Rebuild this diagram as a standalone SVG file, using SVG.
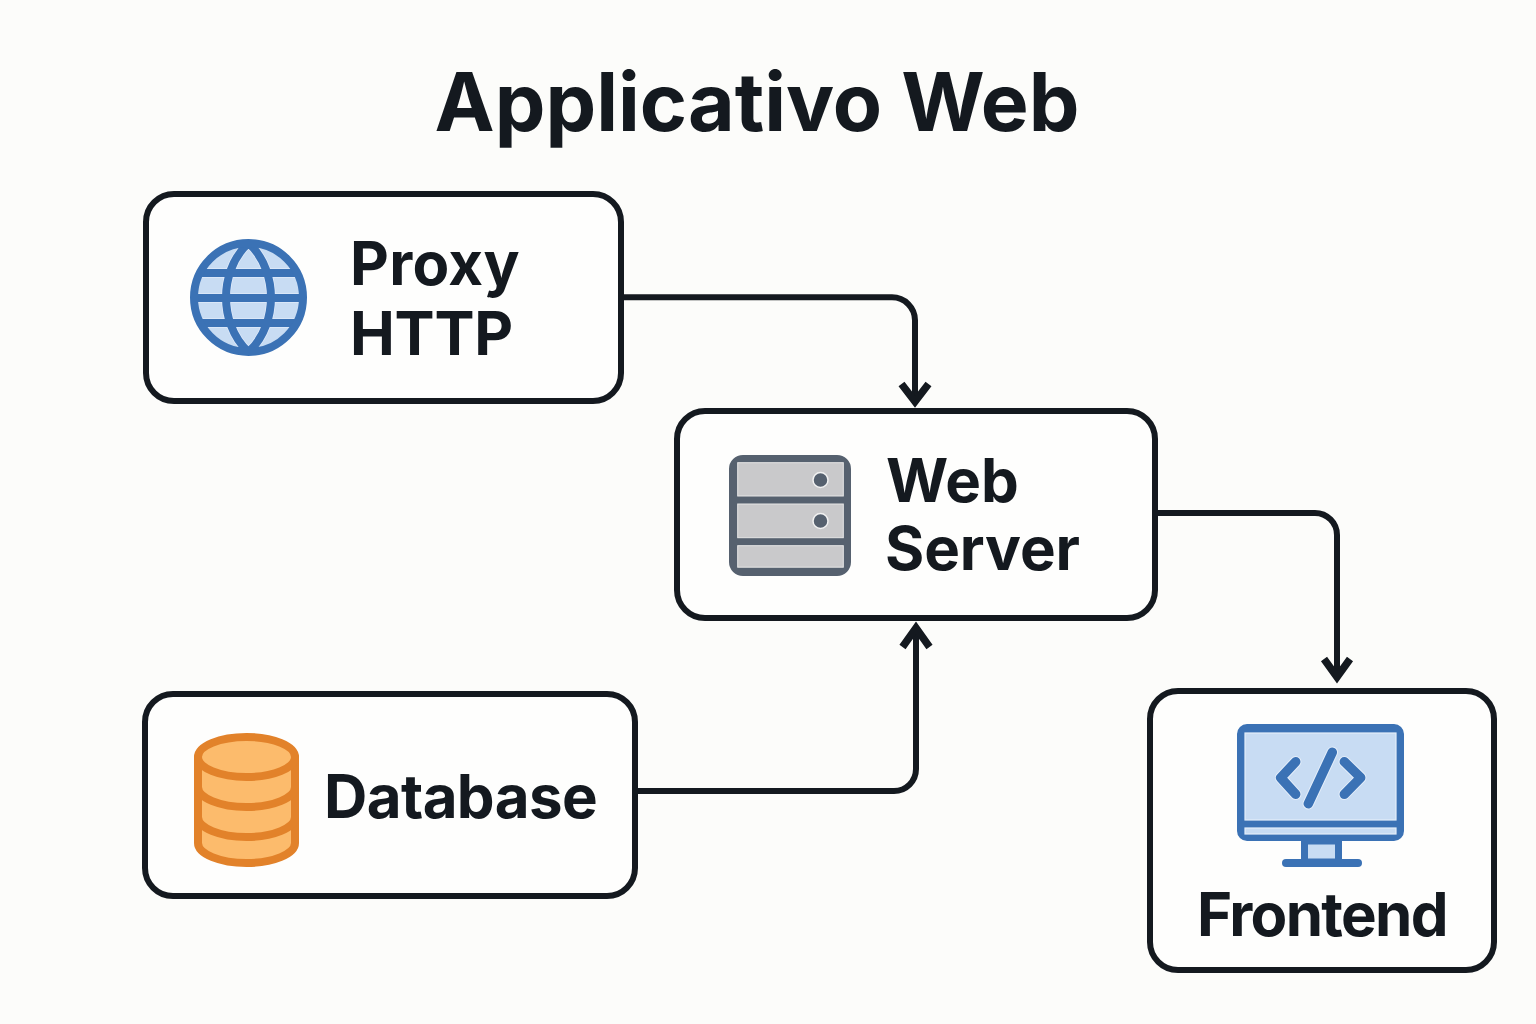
<svg xmlns="http://www.w3.org/2000/svg" width="1536" height="1024" viewBox="0 0 1536 1024">
<defs>
<style>
text{font-family:Inter,"Liberation Sans",sans-serif;font-weight:650;fill:#14191f}
.label{font-size:60px}
.title{font-size:80.500px}
.box{fill:#fefefd;stroke:#14191f;stroke-width:6}
.wire{fill:none;stroke:#14191f;stroke-width:6}
.head{fill:none;stroke:#14191f;stroke-width:7.5;stroke-linejoin:miter;stroke-miterlimit:6}
.blue{stroke:#3b72b5;stroke-width:8;fill:none}
.halo{stroke:#dfeafa;stroke-width:9.500;fill:none}
.pane{fill:#c8dcf3;stroke:#e4eefa;stroke-width:1.2}
.slot{fill:#c9c9cb;stroke:#e6e6e6;stroke-width:1}
.code{fill:none;stroke-linecap:round;stroke-linejoin:round}
</style>
<path id="globe-lines" d="M200 273H297M194 298H303M200 323H297M248.500 243C232 258 226 280 226 297.500S232 337 248.500 352M248.500 243C265 258 271 280 271 297.500S265 337 248.500 352"/>
<path id="code-lines" d="M1295.700 761.700L1280.700 777.700L1295.700 794.300M1344.300 761.700L1360.700 777.700L1344.300 794.300M1332.300 752.300L1308.300 803.700"/>
</defs>
<rect width="1536" height="1024" fill="#fcfcfa"/>
<text class="title" x="757" y="131" text-anchor="middle">Applicativo Web</text>
<g id="connectors">
<path class="wire" d="M620 297.300H892A23 23 0 0 1 915 320.300V398"/>
<path class="head" d="M901.500 384L915 401.500L928.500 384"/>
<path class="wire" d="M1155 513H1315A22 22 0 0 1 1337 535V675"/>
<path class="head" d="M1324 659L1337 677L1350 659"/>
<path class="wire" d="M635 791H894A22 22 0 0 0 916 769V632"/>
<path class="head" d="M902.500 647L916 628L929.500 647"/>
</g>
<g id="proxy">
<rect class="box" x="146" y="194" width="475" height="207" rx="28"/>
<circle cx="248.500" cy="297.500" r="54.500" fill="#c8dcf3"/>
<use href="#globe-lines" class="halo"/>
<use href="#globe-lines" class="blue"/>
<circle cx="248.500" cy="297.500" r="54.500" fill="none" stroke="#3b72b5" stroke-width="8"/>
<text class="label" x="350" y="285" letter-spacing="0.3">Proxy</text>
<text class="label" x="350" y="355" letter-spacing="-0.2">HTTP</text>
</g>
<g id="webserver">
<rect class="box" x="677" y="411" width="478" height="207" rx="28"/>
<rect x="733" y="459" width="114" height="113" rx="10" fill="#56616f" stroke="#56616f" stroke-width="8"/>
<rect class="slot" x="737.700" y="462.700" width="105.600" height="33.300"/>
<rect class="slot" x="737.700" y="504" width="105.600" height="33.700"/>
<rect class="slot" x="737.700" y="545.700" width="105.600" height="21.500"/>
<circle cx="820.500" cy="480" r="7.500" fill="#56616f" stroke="#f2f2f2" stroke-width="1.500"/>
<circle cx="820.500" cy="521" r="7.500" fill="#56616f" stroke="#f2f2f2" stroke-width="1.500"/>
<text class="label" x="886" y="502">Web</text>
<text class="label" x="885" y="570" letter-spacing="-0.1">Server</text>
</g>
<g id="database">
<rect class="box" x="145" y="694" width="490" height="202" rx="28"/>
<path d="M198 757V843C198 854 220 863 246.500 863S295 854 295 843V757Z" fill="#fcbb6c" stroke="#e2822a" stroke-width="8" stroke-linejoin="round"/>
<ellipse cx="246.500" cy="757" rx="48.500" ry="20" fill="#fcbb6c" stroke="#e2822a" stroke-width="8"/>
<path d="M198 787C198 798 220 807 246.500 807S295 798 295 787M198 817C198 828 220 837 246.500 837S295 828 295 817" fill="none" stroke="#e2822a" stroke-width="8"/>
<text class="label" x="324" y="818" letter-spacing="-0.6">Database</text>
</g>
<g id="frontend">
<rect class="box" x="1150" y="691" width="344" height="279" rx="28"/>
<rect x="1241" y="728" width="159" height="109" rx="6" fill="#3b72b5" stroke="#3b72b5" stroke-width="8"/>
<rect class="pane" x="1245" y="733" width="151" height="87"/>
<rect class="pane" x="1245" y="828" width="151" height="6"/>
<rect x="1304.500" y="841" width="34" height="21" fill="#c8dcf3" stroke="#3b72b5" stroke-width="7"/>
<rect x="1282" y="859" width="80" height="8" rx="4" fill="#3b72b5"/>
<use href="#code-lines" class="code" stroke="#e4eefa" stroke-width="11.500"/>
<use href="#code-lines" class="code" stroke="#3b72b5" stroke-width="9.500"/>
<text class="label" x="1197" y="936" letter-spacing="-1.700">Frontend</text>
</g>
</svg>
